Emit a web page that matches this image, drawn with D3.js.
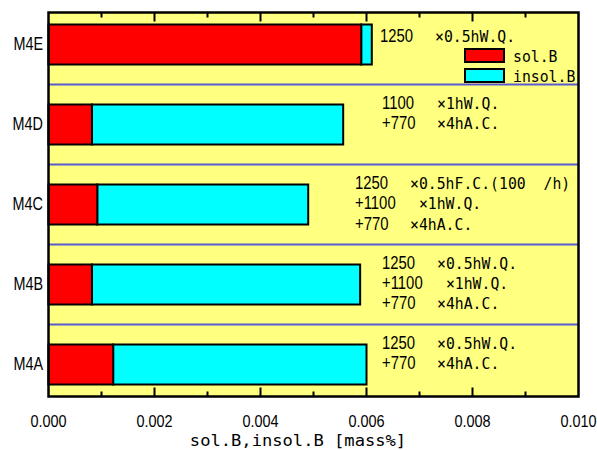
<!DOCTYPE html>
<html>
<head>
<meta charset="utf-8">
<script src="https://cdn.jsdelivr.net/npm/d3@7"></script>
<style>
  body { margin: 0; background: #fff; }
  svg { display: block; }
</style>
</head>
<body>
<svg id="chart" width="597" height="450"></svg>
<script>
// categories, bottom to top
const samples = ["M4A", "M4B", "M4C", "M4D", "M4E"];
const solB = [0.00122, 0.00082, 0.00092, 0.00082, 0.0059];
const insolB = [0.00478, 0.00506, 0.00398, 0.00474, 0.0002];
const xTicks = [0, 0.002, 0.004, 0.006, 0.008, 0.010];
const xMinor = [0.001, 0.003, 0.005, 0.007, 0.009];
// heat treatment notes, one list of [temp, treatment] lines per sample
const notes = [
  [["1250", "×0.5hW.Q."], ["+770", "×4hA.C."]],
  [["1250", "×0.5hW.Q."], ["+1100", " ×1hW.Q."], ["+770", "×4hA.C."]],
  [["1250", "×0.5hF.C.(100  /h)"], ["+1100", " ×1hW.Q."], ["+770", "×4hA.C."]],
  [["1100", "×1hW.Q."], ["+770", "×4hA.C."]],
  [["1250", "×0.5hW.Q."]]
];
const noteX = [382, 382, 355, 382, 380];
const noteDy = [-16, -16, -15.5, -16, -2.5];
const legendItems = ["sol.B", "insol.B"];
const colors = ["#ff0000", "#00ffff"];

const svg = d3.select("#chart");
const L = 48.5, R = 578.5, T = 12.5, B = 396.5;
const MONO = "'DejaVu Sans Mono', monospace";
const SANS = "'Liberation Sans', Arial, sans-serif";
const CH = 8.9; // char pitch of the half-width gothic text

const x = d3.scaleLinear().domain([0, 0.010]).range([L, R]);
const y = d3.scaleLinear().domain([0.6, 5.4]).range([B, T]);
const barH = 0.25;

// narrow sans text: draw at normal width and squeeze horizontally
function narrowText(px, py, str, size, sx, anchor) {
  return svg.append("text")
    .attr("transform", `translate(${px},${py}) scale(${sx},1)`)
    .attr("text-anchor", anchor || "start")
    .attr("font-family", SANS)
    .attr("font-size", size)
    .text(str);
}
function monoText(px, py, str, size, pitch) {
  return svg.append("text")
    .attr("x", px).attr("y", py)
    .attr("font-family", MONO)
    .attr("font-size", size)
    .attr("xml:space", "preserve")
    .style("white-space", "pre")
    .attr("textLength", str.length * pitch)
    .attr("lengthAdjust", "spacingAndGlyphs")
    .text(str);
}

// plot background
svg.append("rect")
  .attr("x", L).attr("y", T)
  .attr("width", R - L).attr("height", B - T)
  .attr("fill", "#ffff80");

// band separators
svg.selectAll(".sep")
  .data([1.5, 2.5, 3.5, 4.5])
  .enter().append("line")
  .attr("x1", L).attr("x2", R)
  .attr("y1", d => y(d)).attr("y2", d => y(d))
  .attr("stroke", "#5a5ad0")
  .attr("stroke-width", 2);

// stacked bars
const stacked = samples.map((s, i) => ({ name: s, pos: i + 1, sol: solB[i], insol: insolB[i] }));
const barG = svg.append("g");
stacked.forEach(d => {
  barG.append("rect")
    .attr("x", x(d.sol)).attr("y", y(d.pos + barH))
    .attr("width", x(d.sol + d.insol) - x(d.sol))
    .attr("height", y(d.pos - barH) - y(d.pos + barH))
    .attr("fill", colors[1]).attr("stroke", "#000").attr("stroke-width", 2);
  barG.append("rect")
    .attr("x", x(0)).attr("y", y(d.pos + barH))
    .attr("width", x(d.sol) - x(0))
    .attr("height", y(d.pos - barH) - y(d.pos + barH))
    .attr("fill", colors[0]).attr("stroke", "#000").attr("stroke-width", 2);
});

// frame
svg.append("rect")
  .attr("x", L).attr("y", T)
  .attr("width", R - L).attr("height", B - T)
  .attr("fill", "none").attr("stroke", "#000").attr("stroke-width", 2.5);

// ticks, inward on top and bottom
const tickG = svg.append("g").attr("stroke", "#000").attr("stroke-width", 2);
xTicks.slice(1, -1).forEach(t => {
  tickG.append("line").attr("x1", x(t)).attr("x2", x(t)).attr("y1", B).attr("y2", B - 9);
  tickG.append("line").attr("x1", x(t)).attr("x2", x(t)).attr("y1", T).attr("y2", T + 9);
});
xMinor.forEach(t => {
  tickG.append("line").attr("x1", x(t)).attr("x2", x(t)).attr("y1", B).attr("y2", B - 5);
  tickG.append("line").attr("x1", x(t)).attr("x2", x(t)).attr("y1", T).attr("y2", T + 5);
});

// tick labels
xTicks.forEach(t => narrowText(x(t), 426.5, d3.format(".3f")(t), 17, 0.85, "middle"));

// category labels
samples.forEach((s, i) => narrowText(43, y(i + 1) + 5, s, 18, 0.8, "end"));

// axis title
const title = "sol.B,insol.B [mass%]";
monoText(298 - title.length * 10.3 / 2, 445.5, title, 16.5, 10.3);

// notes
notes.forEach((lines, i) => {
  lines.forEach((ln, j) => {
    const yy = y(i + 1) + noteDy[i] + j * 20.3;
    narrowText(noteX[i], yy, ln[0], 17.5, 0.85);
    monoText(noteX[i] + 55, yy, ln[1], 16.5, CH);
  });
});

// legend
const lg = { x: 465, y: 49 };
legendItems.forEach((d, i) => {
  svg.append("rect")
    .attr("x", lg.x).attr("y", lg.y + i * 20)
    .attr("width", 39).attr("height", 13)
    .attr("fill", colors[i]).attr("stroke", "#000").attr("stroke-width", 2);
  monoText(lg.x + 48, lg.y + i * 20 + 13, d, 16.5, CH);
});
</script>
</body>
</html>
